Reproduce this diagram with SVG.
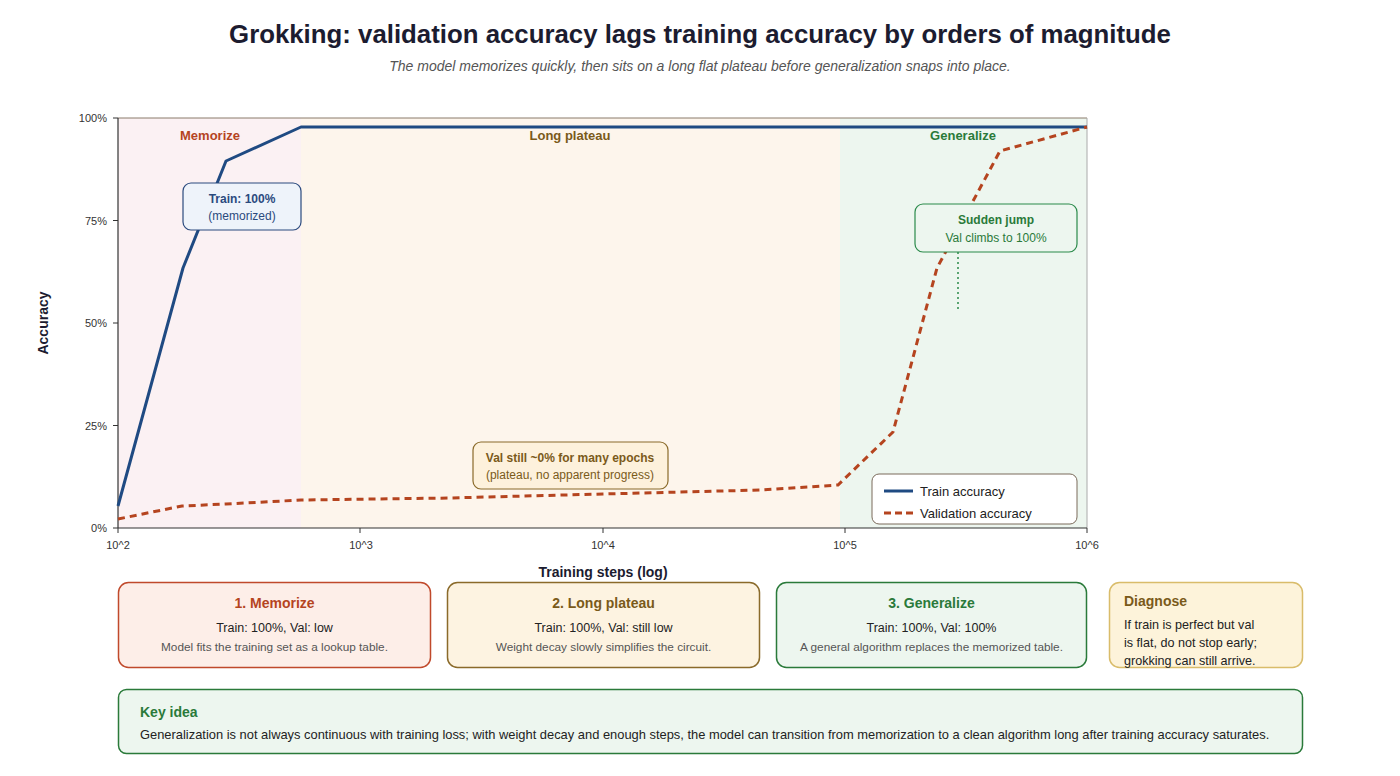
<svg xmlns="http://www.w3.org/2000/svg" width="1400" height="776" viewBox="0 0 1400 776">
<style>
text{font-family:"Liberation Sans",Arial,sans-serif;}
.title{font-size:25.8px;font-weight:bold;fill:#1c1c30;}
.sub{font-size:14px;font-style:italic;fill:#555;}
.tick{font-size:11px;fill:#333;}
.axt{font-size:14px;font-weight:bold;fill:#1c1c30;}
.band{font-size:13px;font-weight:bold;}
.ab{font-size:12px;font-weight:bold;}
.an{font-size:12px;}
.ct{font-size:14px;font-weight:bold;}
.cl{font-size:12.5px;fill:#222;}
.cd{font-size:11.8px;fill:#555;}
.dl{font-size:12.6px;fill:#222;}
.leg{font-size:13px;fill:#222;}
</style>
<rect x="0" y="0" width="1400" height="776" fill="#ffffff"/>
<text class="title" x="700" y="43" text-anchor="middle">Grokking: validation accuracy lags training accuracy by orders of magnitude</text>
<text class="sub" x="700" y="71" text-anchor="middle">The model memorizes quickly, then sits on a long flat plateau before generalization snaps into place.</text>

<g id="plot">
<rect x="118" y="118" width="183" height="410" fill="#fbf1f3"/>
<rect x="301" y="118" width="539" height="410" fill="#fdf5ec"/>
<rect x="840" y="118" width="247" height="410" fill="#edf6ef"/>
<line x1="118" y1="118" x2="1087" y2="118" stroke="#8a7a6a" stroke-width="1"/>
<line x1="1087" y1="118" x2="1087" y2="528" stroke="#aaa" stroke-width="1"/>
<line x1="118" y1="118" x2="118" y2="528" stroke="#333" stroke-width="1.2"/>
<line x1="118" y1="528" x2="1087" y2="528" stroke="#333" stroke-width="1.2"/>
<g stroke="#333" stroke-width="1">
<line x1="113" y1="118" x2="118" y2="118"/>
<line x1="113" y1="220.5" x2="118" y2="220.5"/>
<line x1="113" y1="323" x2="118" y2="323"/>
<line x1="113" y1="425.5" x2="118" y2="425.5"/>
<line x1="113" y1="528" x2="118" y2="528"/>
<line x1="118" y1="528" x2="118" y2="533"/>
<line x1="360" y1="528" x2="360" y2="533"/>
<line x1="603" y1="528" x2="603" y2="533"/>
<line x1="845" y1="528" x2="845" y2="533"/>
<line x1="1087" y1="528" x2="1087" y2="533"/>
</g>
<text class="tick" x="107" y="122" text-anchor="end">100%</text>
<text class="tick" x="107" y="224.5" text-anchor="end">75%</text>
<text class="tick" x="107" y="327" text-anchor="end">50%</text>
<text class="tick" x="107" y="429.5" text-anchor="end">25%</text>
<text class="tick" x="107" y="532" text-anchor="end">0%</text>
<text class="tick" x="118" y="549" text-anchor="middle">10^2</text>
<text class="tick" x="361" y="549" text-anchor="middle">10^3</text>
<text class="tick" x="603" y="549" text-anchor="middle">10^4</text>
<text class="tick" x="845" y="549" text-anchor="middle">10^5</text>
<text class="tick" x="1087" y="549" text-anchor="middle">10^6</text>
<text class="axt" x="603" y="577" text-anchor="middle">Training steps (log)</text>
<text class="axt" x="48" y="323" text-anchor="middle" transform="rotate(-90 48 323)">Accuracy</text>
<text class="band" x="210" y="140" text-anchor="middle" fill="#b5441f">Memorize</text>
<text class="band" x="570" y="140" text-anchor="middle" fill="#7a5a1a">Long plateau</text>
<text class="band" x="963" y="140" text-anchor="middle" fill="#2a7a3a">Generalize</text>
</g>

<g id="series">
<polyline points="118,506 183,268 226,161 301,127 1087,127" fill="none" stroke="#1f4a82" stroke-width="3" stroke-linejoin="round"/>
<polyline points="118,519 182,506 226,504 301,500 450,498 603,494 760,490 838,485 893,432 937,268 1000,151 1087,127" fill="none" stroke="#b5441f" stroke-width="3" stroke-dasharray="7,5"/>
</g>

<g id="ann-train">
<rect x="183" y="183" width="118" height="47" rx="8" fill="#eef3fa" stroke="#2b4a7e" stroke-width="1.2"/>
<text class="ab" x="242" y="203" text-anchor="middle" fill="#2b4a7e">Train: 100%</text>
<text class="an" x="242" y="220" text-anchor="middle" fill="#2b4a7e">(memorized)</text>
</g>
<g id="ann-jump">
<line x1="958" y1="252" x2="958" y2="312" stroke="#2a8a4a" stroke-width="1.5" stroke-dasharray="2,3"/>
<rect x="915" y="204" width="162" height="48" rx="8" fill="#edf6ef" stroke="#2a8a4a" stroke-width="1.2"/>
<text class="ab" x="996" y="224" text-anchor="middle" fill="#2a7a3a">Sudden jump</text>
<text class="an" x="996" y="242" text-anchor="middle" fill="#2a7a3a">Val climbs to 100%</text>
</g>
<g id="ann-plateau">
<rect x="473" y="442" width="195" height="47" rx="8" fill="#fdf1dc" stroke="#8a6a2a" stroke-width="1.2"/>
<text class="ab" x="570" y="462" text-anchor="middle" fill="#7a5a1a">Val still ~0% for many epochs</text>
<text class="an" x="570" y="479" text-anchor="middle" fill="#7a5a1a">(plateau, no apparent progress)</text>
</g>
<g id="legend">
<rect x="872" y="474" width="205" height="50" rx="7" fill="#ffffff" stroke="#7a6a5a" stroke-width="1"/>
<line x1="884" y1="491" x2="913" y2="491" stroke="#1f4a82" stroke-width="3"/>
<text class="leg" x="920" y="495.5">Train accuracy</text>
<line x1="884" y1="513" x2="913" y2="513" stroke="#b5441f" stroke-width="3" stroke-dasharray="7,4"/>
<text class="leg" x="920" y="517.5">Validation accuracy</text>
</g>

<g id="card1">
<rect x="118.5" y="582.5" width="312" height="85" rx="10" fill="#fdeee8" stroke="#c0492b" stroke-width="1.5"/>
<text class="ct" x="274.5" y="608" text-anchor="middle" fill="#b5441f">1. Memorize</text>
<text class="cl" x="274.5" y="632" text-anchor="middle">Train: 100%, Val: low</text>
<text class="cd" x="274.5" y="651" text-anchor="middle">Model fits the training set as a lookup table.</text>
</g>
<g id="card2">
<rect x="447.5" y="582.5" width="312" height="85" rx="10" fill="#fdf3e1" stroke="#8a6a2a" stroke-width="1.5"/>
<text class="ct" x="603.5" y="608" text-anchor="middle" fill="#7a5a1a">2. Long plateau</text>
<text class="cl" x="603.5" y="632" text-anchor="middle">Train: 100%, Val: still low</text>
<text class="cd" x="603.5" y="651" text-anchor="middle">Weight decay slowly simplifies the circuit.</text>
</g>
<g id="card3">
<rect x="776.5" y="582.5" width="310" height="85" rx="10" fill="#edf6ef" stroke="#2a7a3a" stroke-width="1.5"/>
<text class="ct" x="931.5" y="608" text-anchor="middle" fill="#2a7a3a">3. Generalize</text>
<text class="cl" x="931.5" y="632" text-anchor="middle">Train: 100%, Val: 100%</text>
<text class="cd" x="931.5" y="651" text-anchor="middle">A general algorithm replaces the memorized table.</text>
</g>
<g id="diagnose">
<rect x="1109.5" y="582.5" width="193" height="85" rx="10" fill="#fdf3da" stroke="#d9bc6a" stroke-width="1.5"/>
<text class="ct" x="1124" y="606" font-size="13" fill="#7a5a1a">Diagnose</text>
<text class="dl" x="1124" y="629">If train is perfect but val</text>
<text class="dl" x="1124" y="647">is flat, do not stop early;</text>
<text class="dl" x="1124" y="665">grokking can still arrive.</text>
</g>
<g id="keyidea">
<rect x="118.5" y="689.5" width="1184" height="64" rx="8" fill="#edf6ef" stroke="#2a7a3a" stroke-width="1.5"/>
<text class="ct" x="140" y="717" font-size="13" fill="#2a7a3a">Key idea</text>
<text x="140" y="739" font-size="12.9" fill="#222">Generalization is not always continuous with training loss; with weight decay and enough steps, the model can transition from memorization to a clean algorithm long after training accuracy saturates.</text>
</g>
</svg>
